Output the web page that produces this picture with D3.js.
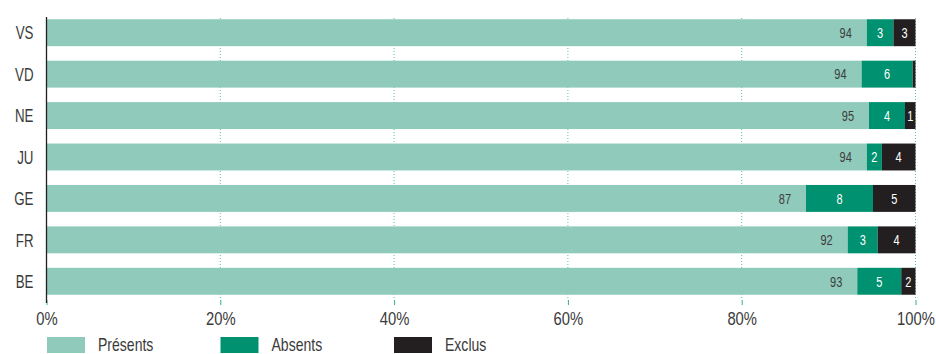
<!DOCTYPE html>
<html>
<head>
<meta charset="utf-8">
<script src="https://cdn.jsdelivr.net/npm/d3@7"></script>
<style>
  html, body { margin: 0; padding: 0; background: #fff; }
  svg { display: block; font-family: "Liberation Sans", Arial, sans-serif; }
</style>
</head>
<body>
<svg id="chart" width="936" height="354"></svg>
<script>
// Cantons, top to bottom
const cantons = ["VS", "VD", "NE", "JU", "GE", "FR", "BE"];
// Shares in percent for each canton
const presents = [94.4, 93.8, 94.65, 94.4, 87.4, 92.2, 93.3];
const absents  = [3.06, 5.87, 4.14, 1.73, 7.71, 3.45, 5.06];
const exclus   = [2.54, 0.33, 1.21, 3.87, 4.89, 4.35, 1.64];
// Legend and axis
const seriesNames = ["Présents", "Absents", "Exclus"];
const seriesColors = ["#8fcaba", "#009170", "#231f20"];
const tickValues = [0, 20, 40, 60, 80, 100];

const svg = d3.select("#chart");
const x0 = 46.5, x1 = 915.5;
const textGrey = "#3a3a3a";

// narrow type: place text at (px, py) and squeeze it horizontally
function narrow(sel, px, py, s) {
  sel.attr("x", null).attr("y", null)
    .attr("transform", function (d, i) {
      const X = typeof px === "function" ? px(d, i) : px;
      const Y = typeof py === "function" ? py(d, i) : py;
      return `translate(${X},${Y}) scale(${s},1)`;
    });
  return sel;
}

const x = d3.scaleLinear().domain([0, 100]).range([x0, x1]);
const y = d3.scaleBand().domain(cantons).range([12, 302])
  .paddingInner(0.35).paddingOuter(0.175);

// dotted vertical gridlines
svg.append("g").selectAll("line").data(tickValues.slice(1)).join("line")
  .attr("x1", d => x(d)).attr("x2", d => x(d))
  .attr("y1", 18).attr("y2", 300)
  .attr("stroke", "#5cbfa3").attr("stroke-width", 1)
  .attr("stroke-dasharray", "1,2");

// bottom axis: short ticks and labels, no domain line
const xAxis = svg.append("g").attr("transform", "translate(0,300)")
  .call(d3.axisBottom(x).tickValues(tickValues).tickSize(5).tickFormat(d => d + "%"));
xAxis.select(".domain").remove();
xAxis.selectAll(".tick line").attr("stroke", "#2fae8c");
narrow(xAxis.selectAll(".tick text"), 0, 25, 0.8)
  .attr("dy", null)
  .attr("font-size", 18.5).attr("fill", textGrey)
  .attr("font-family", "inherit");

// stacked bars
const rows = cantons.map((c, i) => ({ c, vals: [presents[i], absents[i], exclus[i]] }));
const segs = [];
rows.forEach(r => {
  let acc = 0;
  r.vals.forEach((v, k) => {
    segs.push({ c: r.c, k, v, start: acc, end: acc + v });
    acc += v;
  });
});

svg.append("g").selectAll("rect").data(segs).join("rect")
  .attr("x", d => x(d.start))
  .attr("width", d => x(d.end) - x(d.start))
  .attr("y", d => y(d.c))
  .attr("height", y.bandwidth())
  .attr("fill", d => seriesColors[d.k]);

// value labels
const fmt = d3.format(".0f");
const vals = svg.append("g").selectAll("text").data(segs.filter(d => d.v >= 1)).join("text")
  .attr("text-anchor", d => d.k === 0 ? "end" : "middle")
  .attr("font-size", 14.5)
  .attr("fill", d => d.k === 0 ? "#3d3d3d" : "#ffffff")
  .text(d => fmt(d.v));
narrow(vals,
  d => d.k === 0 ? x(d.end) - 15 : (x(d.start) + x(d.end)) / 2,
  d => y(d.c) + y.bandwidth() / 2 + 5.3, 0.76);

// vertical baseline
svg.append("line")
  .attr("x1", x0).attr("x2", x0).attr("y1", 17).attr("y2", 303)
  .attr("stroke", "#231f20").attr("stroke-width", 1.3);

// canton labels
const cl = svg.append("g").selectAll("text").data(cantons).join("text")
  .attr("text-anchor", "end")
  .attr("font-size", 18.5).attr("fill", textGrey)
  .text(d => d);
narrow(cl, 33.5, d => y(d) + y.bandwidth() / 2 + 6.7, 0.72);

// legend
const legend = svg.append("g").selectAll("g").data(seriesNames).join("g")
  .attr("transform", (d, i) => `translate(${47 + i * 173.5},337)`);
legend.append("rect").attr("width", 38).attr("height", 16)
  .attr("fill", (d, i) => seriesColors[i]);
narrow(legend.append("text"), 51, 13.5, 0.78)
  .attr("font-size", 18).attr("fill", textGrey)
  .text(d => d);
</script>
</body>
</html>
